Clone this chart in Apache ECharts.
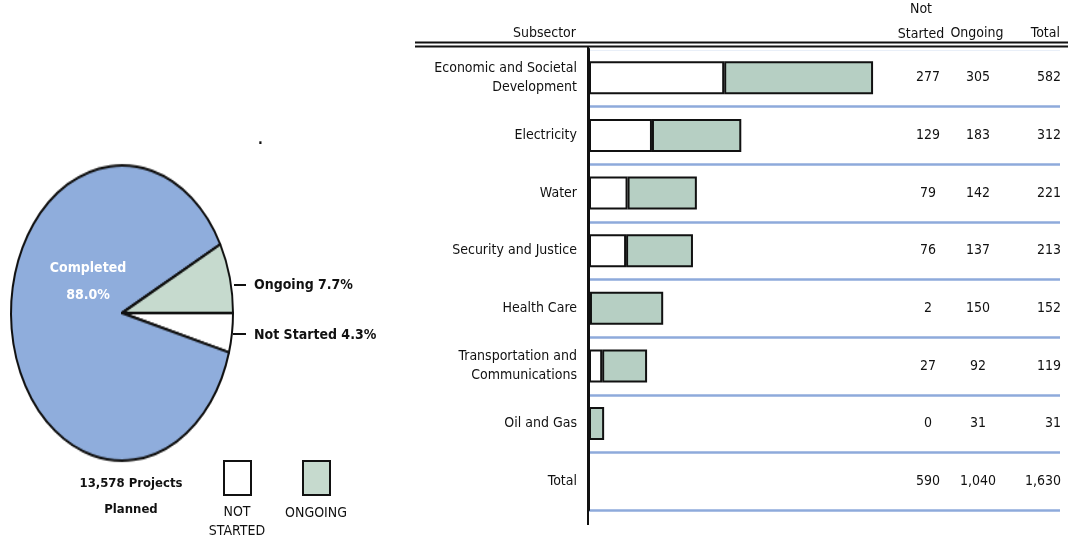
<!DOCTYPE html>
<html><head><meta charset="utf-8">
<script src="https://cdn.jsdelivr.net/npm/echarts@6/dist/echarts.min.js"></script>
<style>
html,body{margin:0;padding:0;background:#fff;}
#wrap{position:relative;width:1068px;height:546px;overflow:hidden;}
#pie{position:absolute;left:2px;top:193px;width:240px;height:240px;transform:scaleY(1.33);transform-origin:50% 50%;}
#main{position:absolute;left:0;top:0;width:1068px;height:546px;}
</style></head>
<body><div id="wrap"><div id="pie"></div><div id="main"></div></div>
<script>
// ---- data ----
const categories = ['Economic and Societal\nDevelopment','Electricity','Water','Security and Justice','Health Care','Transportation and\nCommunications','Oil and Gas','Total'];
const notStarted = [277,129,79,76,2,27,0];
const ongoing = [305,183,142,137,150,92,31];
const totals = [582,312,221,213,152,119,31];
const totalRow = [590,1040,1630];
const headers = ['Subsector','Not\nStarted','Ongoing','Total'];
const pieNames = ['Not Started','Completed','Ongoing'];
const pieValues = [4.3,88.0,7.7];
const legendNames = ['NOT\nSTARTED','ONGOING'];
const plannedText = '13,578 Projects\nPlanned';

const FONT = "'DejaVu Sans Condensed','Liberation Sans Narrow',sans-serif";
const FS = 14;
const BLUE = '#8FADDC', PIE_GREEN = '#C6DACE', BAR_GREEN = '#B6CFC3', LINE_BLUE = '#8EAADB';

// ---- pie (separate instance, stretched vertically into an ellipse) ----
const pie = echarts.init(document.getElementById('pie'), null, {renderer:'canvas'});
pie.setOption({
  animation:false,
  series:[{
    type:'pie', radius:111, center:['50%','50%'], startAngle:0, clockwise:true,
    label:{show:false}, labelLine:{show:false}, emphasis:{disabled:true},
    itemStyle:{borderColor:'#111', borderWidth:2},
    data: pieNames.map((n,i)=>({name:n, value:pieValues[i], itemStyle:{color:[ '#ffffff', BLUE, PIE_GREEN ][i]}}))
  }]
});

// ---- main chart ----
const fmt = v => v.toLocaleString('en-US');
const chart = echarts.init(document.getElementById('main'), null, {renderer:'canvas'});
const txt = (x,y,text,opt={}) => ({type:'text', x, y, z:50, style:Object.assign({text, font:`${FS}px ${FONT}`, fill:'#111', align:'left', verticalAlign:'middle'}, opt)});
chart.setOption({
  animation:false,
  backgroundColor:'transparent',
  textStyle:{fontFamily:FONT},
  grid:{left:589, right:8, top:49, height:461, containLabel:false},
  xAxis:{type:'value', min:0, max:965, show:false},
  yAxis:[{
    type:'category', data:categories, inverse:true,
    axisLine:{show:true, lineStyle:{color:'#111', width:2}},
    axisTick:{show:false},
    splitLine:{show:true, lineStyle:{color:LINE_BLUE, width:2.5}},
    axisLabel:{margin:12, color:'#111', fontFamily:FONT, fontSize:FS, lineHeight:19, align:'right'}
  },{
    type:'category', data:categories, inverse:true, position:'right', offset:-160,
    axisLine:{show:false}, axisTick:{show:false}, splitLine:{show:false},
    axisLabel:{margin:0, align:'left', fontFamily:FONT, fontSize:FS, color:'#111',
      formatter:(v,i)=>{
        const a = i<notStarted.length ? notStarted[i] : totalRow[0];
        const b = i<ongoing.length ? ongoing[i] : totalRow[1];
        const c = i<totals.length ? totals[i] : totalRow[2];
        return `{a|${fmt(a)}}{b|${fmt(b)}}{c|${fmt(c)}}`;
      },
      rich:{
        a:{width:56, align:'center', fontFamily:FONT, fontSize:FS, color:'#111'},
        b:{width:44, align:'center', fontFamily:FONT, fontSize:FS, color:'#111'},
        c:{width:61, align:'right', fontFamily:FONT, fontSize:FS, color:'#111'}
      }
    }
  }],
  series:[
    {type:'bar', name:legendNames[0], stack:'s', barWidth:33, data:[...notStarted, null],
     itemStyle:{color:'#ffffff', borderColor:'#111', borderWidth:2}, emphasis:{disabled:true}},
    {type:'bar', name:legendNames[1], stack:'s', barWidth:33, data:[...ongoing, null],
     itemStyle:{color:BAR_GREEN, borderColor:'#111', borderWidth:2}, emphasis:{disabled:true}}
  ],
  graphic:[
    // header
    txt(576,33,headers[0],{align:'right'}),
    txt(921,21.5,headers[1],{align:'center', lineHeight:25}),
    txt(977,33,headers[2],{align:'center'}),
    txt(1060,33,headers[3],{align:'right'}),
    {type:'line', z:60, shape:{x1:590,y1:49,x2:1064,y2:49}, style:{stroke:'#fff', lineWidth:3.5}},
    {type:'line', z:60, shape:{x1:415,y1:42.5,x2:1068,y2:42.5}, style:{stroke:'#111', lineWidth:1.8}},
    {type:'line', z:60, shape:{x1:415,y1:46.5,x2:1068,y2:46.5}, style:{stroke:'#111', lineWidth:1.8}},
    {type:'line', z:60, shape:{x1:588,y1:47,x2:588,y2:525}, style:{stroke:'#111', lineWidth:2}},
    // pie labels
    txt(88,268,pieNames[1],{fill:'#fff', align:'center', font:`bold ${FS}px ${FONT}`}),
    txt(88,295,pieValues[1].toFixed(1)+'%',{fill:'#fff', align:'center', font:`bold ${FS}px ${FONT}`}),
    {type:'line', z:60, shape:{x1:234,y1:285,x2:246,y2:285}, style:{stroke:'#111', lineWidth:2}},
    txt(254,285,`${pieNames[2]} ${pieValues[2].toFixed(1)}%`,{font:`bold ${FS}px ${FONT}`}),
    {type:'line', z:60, shape:{x1:233,y1:334,x2:246,y2:334}, style:{stroke:'#111', lineWidth:2}},
    txt(254,335,`${pieNames[0]} ${pieValues[0].toFixed(1)}%`,{font:`bold ${FS}px ${FONT}`}),
    txt(258,140,'.',{font:`bold ${FS}px ${FONT}`}),
    // bottom-left
    txt(131,497,plannedText,{align:'center', lineHeight:26, font:`bold 13px ${FONT}`}),
    {type:'rect', z:60, shape:{x:224,y:461,width:27,height:34}, style:{fill:'#fff', stroke:'#111', lineWidth:2}},
    {type:'rect', z:60, shape:{x:303,y:461,width:27,height:34}, style:{fill:PIE_GREEN, stroke:'#111', lineWidth:2}},
    txt(237,522,legendNames[0],{align:'center', lineHeight:19}),
    txt(316,513,legendNames[1],{align:'center'})
  ]
});
</script></body></html>
